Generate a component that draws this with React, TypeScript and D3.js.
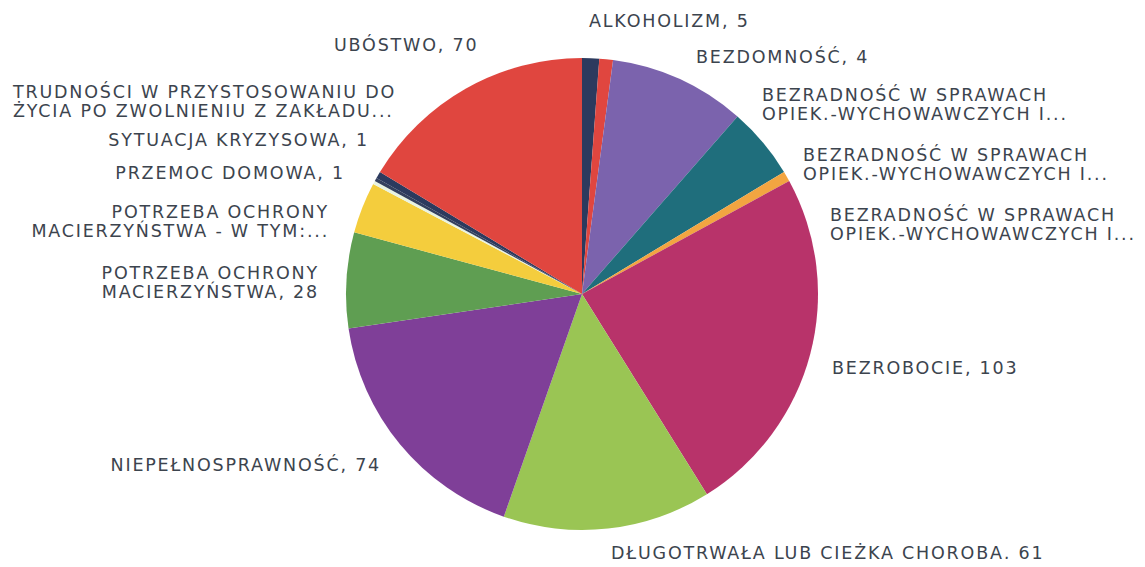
import { useEffect, useRef } from 'react'
import * as d3 from 'd3'

// slice order, clockwise from 12 o'clock
const categories = [
  'ALKOHOLIZM',
  'BEZDOMNOŚĆ',
  'BEZRADNOŚĆ W SPRAWACH\nOPIEK.-WYCHOWAWCZYCH I...',
  'BEZRADNOŚĆ W SPRAWACH\nOPIEK.-WYCHOWAWCZYCH I...',
  'BEZRADNOŚĆ W SPRAWACH\nOPIEK.-WYCHOWAWCZYCH I...',
  'BEZROBOCIE',
  'DŁUGOTRWAŁA LUB CIĘŻKA CHOROBA',
  'NIEPEŁNOSPRAWNOŚĆ',
  'POTRZEBA OCHRONY\nMACIERZYŃSTWA',
  'POTRZEBA OCHRONY\nMACIERZYŃSTWA - W TYM:...',
  'PRZEMOC DOMOWA',
  'SYTUACJA KRYZYSOWA',
  'TRUDNOŚCI W PRZYSTOSOWANIU DO\nŻYCIA PO ZWOLNIENIU Z ZAKŁADU...',
  'UBÓSTWO',
]

const values = [5, 4, 40, 21, 3, 103, 61, 74, 28, 15, 1, 1, 2, 70]

// whether the value is printed after the name
const showValue = [true, true, false, false, false, true, true, true, true, false, true, true, false, true]

const colors = [
  '#2c3a5e', '#e0463f', '#7b63ad', '#1f6e7c', '#f2a541', '#b8336a', '#9ac554',
  '#7f3f98', '#5f9e52', '#f4cd3d', '#e8f3e2', '#34405e', '#2c3a5e', '#e0463f',
]

// label anchors: x, y of first line centre, text-anchor
const labelPos: [number, number, string][] = [
  [589, 21, 'start'],
  [696, 57, 'start'],
  [762, 95, 'start'],
  [803, 155, 'start'],
  [830, 215, 'start'],
  [832, 368, 'start'],
  [611, 553, 'start'],
  [381, 465, 'end'],
  [319, 273, 'end'],
  [329, 212, 'end'],
  [345, 173, 'end'],
  [369, 140, 'end'],
  [13, 92, 'start'],
  [334, 45, 'start'],
]

const W = 1145
const H = 567

export default function App() {
  const svgRef = useRef<SVGSVGElement>(null)

  useEffect(() => {
    if (!svgRef.current) return
    const svg = d3.select(svgRef.current)
    svg.selectAll('*').remove()

    const cx = 582
    const cy = 294
    const r = 236

    const data = values.map((v, i) => ({ v, i }))
    const pie = d3.pie<{ v: number; i: number }>().sort(null).value(d => d.v)
    const arc = d3.arc<d3.PieArcDatum<{ v: number; i: number }>>().innerRadius(0).outerRadius(r)

    const g = svg.append('g').attr('transform', `translate(${cx},${cy})`)
    g.selectAll('path')
      .data(pie(data))
      .join('path')
      .attr('d', arc)
      .attr('fill', d => colors[d.data.i])

    const labels = svg.append('g')
      .attr('font-family', '"DejaVu Sans", sans-serif')
      .attr('font-size', '17.5px')
      .attr('letter-spacing', '1.8px')
      .attr('fill', '#3c444e')

    categories.forEach((c, i) => {
      const lines = c.split('\n')
      if (showValue[i]) lines[lines.length - 1] += `, ${values[i]}`
      const [x, y, anchor] = labelPos[i]
      const t = labels.append('text').attr('text-anchor', anchor)
      lines.forEach((ln, k) => {
        t.append('tspan').attr('x', x).attr('y', y + k * 19).attr('dy', '0.35em').text(ln)
      })
    })
  }, [])

  return (
    <div style={{ margin: -8 }}>
      <svg ref={svgRef} width={W} height={H} style={{ display: 'block', background: '#fff' }} />
    </div>
  )
}
